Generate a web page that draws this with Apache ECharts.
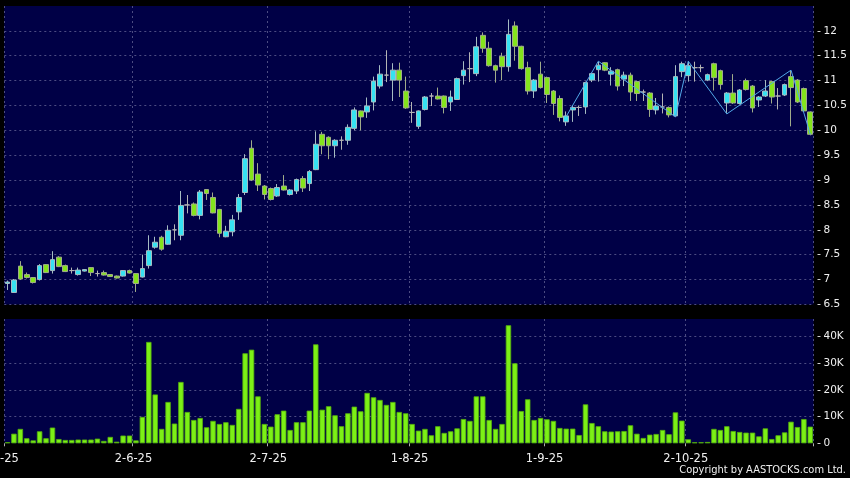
<!DOCTYPE html>
<html><head><meta charset="utf-8">
<script src="https://cdn.jsdelivr.net/npm/echarts@6/dist/echarts.min.js"></script>
<style>html,body{margin:0;padding:0;background:#000;}#c{width:850px;height:478px;}</style>
</head><body><div id="c"></div>
<script>
// Trading days (HK) per month, 2025
const mayDays = [2,6,7,8,9,12,13,14,15,16,19,20,21,22,23,26,27,28,29,30];
const junDays = [2,3,4,5,6,9,10,11,12,13,16,17,18,19,20,23,24,25,26,27,30];
const julDays = [2,3,4,7,8,9,10,11,14,15,16,17,18,21,22,23,24,25,28,29,30,31];
const augDays = [1,4,5,6,7,8,11,12,13,14,15,18,19,20,21,22,25,26,27,28,29];
const sepDays = [1,2,3,4,5,8,9,10,11,12,15,16,17,18,19,22,23,24,25,26,29,30];
const octDays = [2,3,6,8,9,10,13,14,15,16,17,20,21,22,23,24,27,28,30,31];

const openP = [6.92,6.74,7.27,7.10,7.04,7.00,7.30,7.18,7.45,7.28, 7.18,7.10,7.17,7.24,7.12,7.14,7.10,7.07,7.07,7.18,
 7.12,7.05,7.28,7.65,7.85,7.71,8.00,7.89,8.50,8.52, 8.29,8.81,8.65,8.41,7.86,7.96,8.36,8.75,9.64,9.12,
 8.88,8.83,8.68,8.88,8.71,8.78,9.03,8.93,9.21,9.92, 9.86,9.69,9.80,9.80,10.04,10.39,10.37,10.57,10.89,11.11,
 11.01,11.21,10.79,10.36,10.08,10.42,10.69,10.69,10.69,10.57, 10.62,11.10,11.24,11.14,11.91,11.65,11.30,11.49,11.28,12.10,
 11.69,11.26,10.79,11.13,11.06,10.79,10.64,10.17,10.41,10.46, 10.47,11.01,11.22,11.36,11.13,11.22,11.03,11.11,10.98,10.77,
 10.75,10.41,10.47,10.46,10.29,11.18,11.10,11.26,11.26,11.01, 11.34,11.20,10.55,10.75,10.54,11.00,10.89,10.61,10.69,10.98,
 10.69,10.71,11.08,11.01,10.84,10.37];
const closeP = [6.95,6.99,7.01,7.04,6.94,7.28,7.14,7.40,7.26,7.16, 7.18,7.19,7.20,7.14,7.12,7.09,7.06,7.03,7.18,7.13,
 6.92,7.22,7.58,7.75,7.61,7.99,8.00,8.49,8.50,8.29, 8.76,8.73,8.34,7.93,7.97,8.20,8.65,9.43,9.00,8.90,
 8.71,8.61,8.85,8.80,8.80,9.01,8.84,9.17,9.72,9.69, 9.69,9.80,9.80,10.06,10.41,10.27,10.49,10.99,11.13,11.11,
 11.21,11.01,10.45,10.36,10.39,10.67,10.69,10.63,10.46,10.67, 11.04,11.21,11.24,11.68,11.65,11.30,11.21,11.28,11.93,11.69,
 11.24,10.79,11.01,10.86,10.72,10.54,10.26,10.29,10.46,10.46, 10.96,11.14,11.31,11.21,11.19,10.89,11.11,10.77,10.74,10.77,
 10.42,10.49,10.47,10.31,11.08,11.34,11.30,11.26,11.26,11.12, 11.06,10.92,10.75,10.55,10.81,10.82,10.45,10.67,10.79,10.67,
 10.69,10.92,10.86,10.57,10.39,9.92];
const lowP = [6.79,6.73,6.99,7.02,6.92,6.98,7.13,7.12,7.25,7.15, 7.12,7.08,7.16,7.07,7.06,7.08,7.05,7.02,7.06,7.12,
 6.75,7.04,7.22,7.62,7.58,7.70,7.79,7.79,8.33,8.27, 8.21,8.60,8.33,7.85,7.85,7.87,8.20,8.70,8.98,8.78,
 8.61,8.59,8.66,8.79,8.69,8.72,8.76,8.78,9.20,9.52, 9.42,9.45,9.61,9.71,10.00,10.00,10.25,10.40,10.84,10.97,
 10.59,10.67,10.43,10.15,10.03,10.40,10.49,10.62,10.34,10.39, 10.61,10.92,10.97,11.09,11.56,11.28,10.96,11.01,11.18,11.40,
 11.22,10.72,10.65,10.84,10.55,10.31,10.18,10.09,10.17,10.29, 10.33,10.97,10.98,11.19,10.90,10.80,10.89,10.59,10.59,10.59,
 10.27,10.32,10.34,10.26,10.27,11.07,10.98,10.98,11.17,10.99, 10.80,10.82,10.35,10.53,10.52,10.80,10.36,10.47,10.67,10.54,
 10.42,10.69,10.08,10.55,10.37,9.90];
const highP = [6.98,7.01,7.37,7.14,7.05,7.31,7.31,7.57,7.47,7.30, 7.24,7.24,7.21,7.25,7.18,7.18,7.11,7.08,7.19,7.20,
 7.13,7.50,7.89,7.86,7.88,8.09,8.11,8.78,8.70,8.55, 8.80,8.82,8.75,8.42,8.08,8.30,8.72,9.52,9.80,9.34,
 8.90,8.85,8.92,9.10,8.82,9.03,9.08,9.20,9.98,9.97, 9.88,9.82,9.88,10.12,10.46,10.40,10.66,11.08,11.31,11.61,
 11.35,11.36,11.08,10.57,10.40,10.69,10.75,10.86,10.70,10.80, 11.06,11.39,11.57,11.88,11.97,11.78,11.32,11.56,12.23,12.19,
 11.70,11.38,11.03,11.38,11.08,10.81,10.70,10.38,10.50,10.50, 10.98,11.16,11.38,11.37,11.27,11.24,11.18,11.16,11.00,10.82,
 10.77,10.65,10.74,10.48,11.31,11.38,11.38,11.38,11.32,11.14, 11.36,11.22,10.77,11.13,10.83,11.04,10.91,10.69,11.01,11.00,
 10.85,10.94,11.21,11.03,10.86,10.38];
// volume in thousands
const volK = [0.4,3.6,5.4,1.9,1.1,4.5,1.9,5.9,1.6,1.25, 1.25,1.4,1.4,1.4,1.75,0.9,2.4,0.6,2.9,2.9,
 1.1,9.9,38,18.3,5.4,15.5,7.4,23,11.75,8.75, 9.5,6,8.4,7.25,7.9,6.9,12.9,33.75,35.1,17.6,
 7.25,6.25,10.9,12.25,5,7.9,7.9,12.25,37.1,12.6, 13.9,10.5,6.4,11.25,13.75,12,18.9,17.25,16.25,14.4,
 15.5,11.75,11.25,7.25,4.75,5.4,3,6.4,3.9,4.5, 5.6,9.1,8.4,17.6,17.6,8.75,5.4,7.25,44.25,30,
 12.1,16.5,8.75,9.5,9,8.4,5.75,5.5,5.5,3.1, 14.6,7.6,6.4,4.5,4.4,4.5,4.6,6.75,3.6,2,
 3.25,3.5,5,3.4,11.6,8.5,1.5,0.4,0.4,0.5, 5.4,5,6.4,4.6,4.25,4,4,2.6,5.6,1.6,
 3,4.1,8.1,6.1,9.1,6.25];
// zigzag line vertices (category index, price)
const zigIdx = [87,92,104,106,112,122,125];
const zigVal = [10.28,11.39,10.27,11.39,10.33,11.21,9.92];

const monthDays = [[5,mayDays],[6,junDays],[7,julDays],[8,augDays],[9,sepDays],[10,octDays]];
const dates = [];
const monthStart = {};
monthDays.forEach(([m, days]) => {
  monthStart[dates.length] = true;
  days.forEach(d => dates.push(d + '-' + m + '-25'));
});
const candleData = openP.map((o, i) => [o, closeP[i], lowP[i], highP[i]]);
const zigData = dates.map(() => null);
zigIdx.forEach((ix, k) => { zigData[ix] = zigVal[k]; });

const isStart = (i) => !!monthStart[i];
const gridLine = { show: true, interval: isStart, lineStyle: { color: '#4c4c82', type: [2, 3], width: 1 } };
const hLine = { show: true, showMaxLine: false, lineStyle: { color: '#4c4c82', type: [2, 3], width: 1 } };
const yLabel = { color: '#f0f0f0', fontSize: 10.5, fontFamily: 'DejaVu Sans', margin: 6, showMaxLabel: false };
const yTick = { show: true, length: 3, lineStyle: { color: '#d0d0d0' } };

const chart = echarts.init(document.getElementById('c'), null, { renderer: 'canvas' });
chart.setOption({
  backgroundColor: '#000000',
  animation: false,
  grid: [
    { left: 4.3, right: 36.5, top: 6, height: 298.4, show: true, backgroundColor: '#000046', borderWidth: 0,
      containLabel: false, outerBoundsMode: 'none' },
    { left: 4.3, right: 36.5, top: 319, height: 124.3, show: true, backgroundColor: '#000046', borderWidth: 0,
      containLabel: false, outerBoundsMode: 'none' }
  ],
  xAxis: [
    { type: 'category', gridIndex: 0, data: dates, boundaryGap: true,
      axisLine: { show: false }, axisTick: { show: false }, axisLabel: { show: false }, splitLine: gridLine },
    { type: 'category', gridIndex: 1, data: dates, boundaryGap: true,
      axisLine: { show: false },
      axisTick: { show: true, interval: isStart, length: 3, lineStyle: { color: '#b0b0b0' } },
      axisLabel: { interval: isStart, margin: 10, color: '#f0f0f0', fontSize: 11.5, fontFamily: 'DejaVu Sans',
        formatter: (v, i) => (i === 0 ? '{f|' + v + '}' : '{n|' + v + '}'),
        rich: {
          f: { padding: [0, 15, 0, 0], color: '#f0f0f0', fontSize: 11.5, fontFamily: 'DejaVu Sans' },
          n: { padding: [0, 5, 0, 0], color: '#f0f0f0', fontSize: 11.5, fontFamily: 'DejaVu Sans' }
        } },
      splitLine: gridLine }
  ],
  yAxis: [
    { type: 'value', gridIndex: 0, position: 'right', offset: 4, min: 6.5, max: 12.5, interval: 0.5,
      axisLine: { show: false }, axisTick: yTick, axisLabel: yLabel, splitLine: hLine },
    { type: 'value', gridIndex: 1, position: 'right', offset: 4, min: 0, max: 46.6, interval: 10,
      axisLine: { show: false }, axisTick: yTick,
      axisLabel: Object.assign({}, yLabel, { formatter: v => (v === 0 ? '0' : v + 'K') }),
      splitLine: Object.assign({}, hLine, { showMinLine: false }) }
  ],
  series: [
    { type: 'candlestick', xAxisIndex: 0, yAxisIndex: 0, data: candleData, barWidth: 5.2,
      itemStyle: { color: '#36e2f2', color0: '#84e41c', borderColor: '#a6bcc2', borderColor0: '#a0ac8a',
        borderColorDoji: '#b4b4b4', borderWidth: 1 } },
    { type: 'line', xAxisIndex: 0, yAxisIndex: 0, data: zigData, connectNulls: true, symbol: 'none',
      lineStyle: { color: '#52a8e8', width: 1 }, z: 5 },
    { type: 'bar', xAxisIndex: 1, yAxisIndex: 1, data: volK, barWidth: 5.4,
      itemStyle: { color: '#7cf016', borderColor: '#55b00c', borderWidth: 0.8 } }
  ],
  graphic: [
    { type: 'text', right: 4, top: 465,
      style: { text: 'Copyright by AASTOCKS.com Ltd.', fill: '#f0f0f0', fontSize: 11,
        fontFamily: "'DejaVu Sans Condensed', 'Liberation Sans', sans-serif" } }
  ]
});
</script></body></html>
